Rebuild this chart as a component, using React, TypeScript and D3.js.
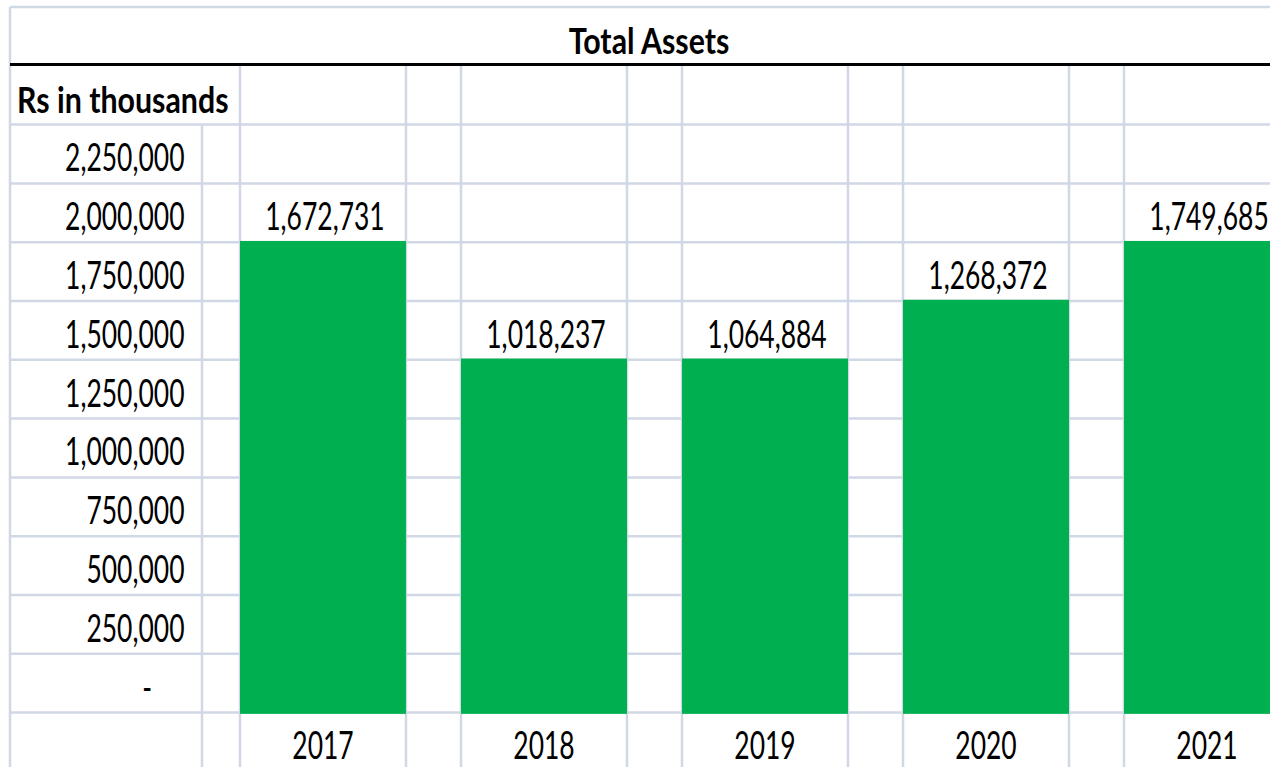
import React from 'react'
import * as d3 from 'd3'

const years = ['2017', '2018', '2019', '2020', '2021']
const totalAssets = [1672731, 1018237, 1064884, 1268372, 1749685]
const yTicks = [2250000, 2000000, 1750000, 1500000, 1250000, 1000000, 750000, 500000, 250000, 0]
const tickStep = 250000

const width = 1270
const height = 767
const sheetLeft = 10
const sheetTop = 7
const rowH = 58.8
const labelColRight = 202
const gridColor = '#D0D7E5'
const green = '#00B050'
const font = "Lato, 'Open Sans', sans-serif"
const regular = { size: 39.5, sx: 0.67 }
const bold = { size: 37, sx: 0.82 }

// value rows sit below the title row and the "Rs in thousands" row
const yBand = d3
  .scaleBand()
  .domain(yTicks.map(String))
  .range([sheetTop + 2 * rowH, sheetTop + 12 * rowH])

const xBand = d3
  .scaleBand()
  .domain(years)
  .range([240, 1290])
  .paddingInner(0.249)
  .paddingOuter(0)

const fmt = d3.format(',')
const tickLabel = (v: number) => (v === 0 ? '-' : fmt(v))
// the sheet fills every cell up to the row whose label covers the value
const cellTop = (v: number) => yBand(String(Math.ceil(v / tickStep) * tickStep)) as number

function SheetText({ x, y, anchor, style, weight, children }: any) {
  return (
    <g transform={`translate(${x},${y}) scale(${style.sx},1)`}>
      <text textAnchor={anchor} fontSize={style.size} fontWeight={weight} fontFamily={font} fill="#000">
        {children}
      </text>
    </g>
  )
}

function Grid() {
  const bw = xBand.bandwidth()
  const rowLines = yTicks.map(t => yBand(String(t)) as number).concat([(yBand('0') as number) + yBand.bandwidth()])
  const colLines: number[] = []
  years.forEach(y => {
    colLines.push(xBand(y) as number)
    colLines.push((xBand(y) as number) + bw)
  })
  return (
    <g>
      <line x1={sheetLeft} x2={width} y1={sheetTop} y2={sheetTop} stroke={gridColor} strokeWidth={2.5} />
      {rowLines.map((y, i) => (
        <line key={'r' + i} x1={sheetLeft} x2={width} y1={y} y2={y} stroke={gridColor} strokeWidth={2.5} />
      ))}
      <line x1={sheetLeft} x2={sheetLeft} y1={sheetTop} y2={height} stroke={gridColor} strokeWidth={2.5} />
      <line x1={labelColRight} x2={labelColRight} y1={sheetTop + 2 * rowH} y2={height} stroke={gridColor} strokeWidth={2.5} />
      {colLines.map((x, i) => (
        <line key={'c' + i} x1={x} x2={x} y1={sheetTop + rowH} y2={height} stroke={gridColor} strokeWidth={2.5} />
      ))}
      <line x1={sheetLeft} x2={width} y1={sheetTop + rowH - 1.3} y2={sheetTop + rowH - 1.3} stroke="#000" strokeWidth={3} />
    </g>
  )
}

export default function App() {
  const bw = xBand.bandwidth()
  const bottom = (yBand('0') as number) + yBand.bandwidth()
  return (
    <svg
      width={width}
      height={height}
      style={{ position: 'absolute', left: 0, top: 0, display: 'block', background: '#fff' }}
    >
      <rect x={0} y={0} width={width} height={height} fill="#fff" />
      <Grid />

      {totalAssets.map((v, i) => {
        const top = cellTop(v)
        return (
          <rect
            key={years[i]}
            x={xBand(years[i])}
            y={top - 1.25}
            width={bw}
            height={bottom - top + 2.5}
            fill={green}
          />
        )
      })}

      <SheetText x={649} y={sheetTop + rowH - 12} anchor="middle" style={bold} weight="bold">
        Total Assets
      </SheetText>
      <SheetText x={17} y={sheetTop + 2 * rowH - 12} anchor="start" style={bold} weight="bold">
        Rs in thousands
      </SheetText>

      {yTicks.map(t => (
        <SheetText
          key={t}
          x={t === 0 ? 152 : 184.5}
          y={(yBand(String(t)) as number) + yBand.bandwidth() - 12}
          anchor="end"
          style={regular}
        >
          {tickLabel(t)}
        </SheetText>
      ))}

      {totalAssets.map((v, i) => (
        <SheetText
          key={'v' + years[i]}
          x={(xBand(years[i]) as number) + bw / 2 + 2}
          y={cellTop(v) - 12}
          anchor="middle"
          style={regular}
        >
          {fmt(v)}
        </SheetText>
      ))}

      {years.map(y => (
        <SheetText key={'y' + y} x={(xBand(y) as number) + bw / 2} y={bottom + rowH - 12} anchor="middle" style={regular}>
          {y}
        </SheetText>
      ))}
    </svg>
  )
}
